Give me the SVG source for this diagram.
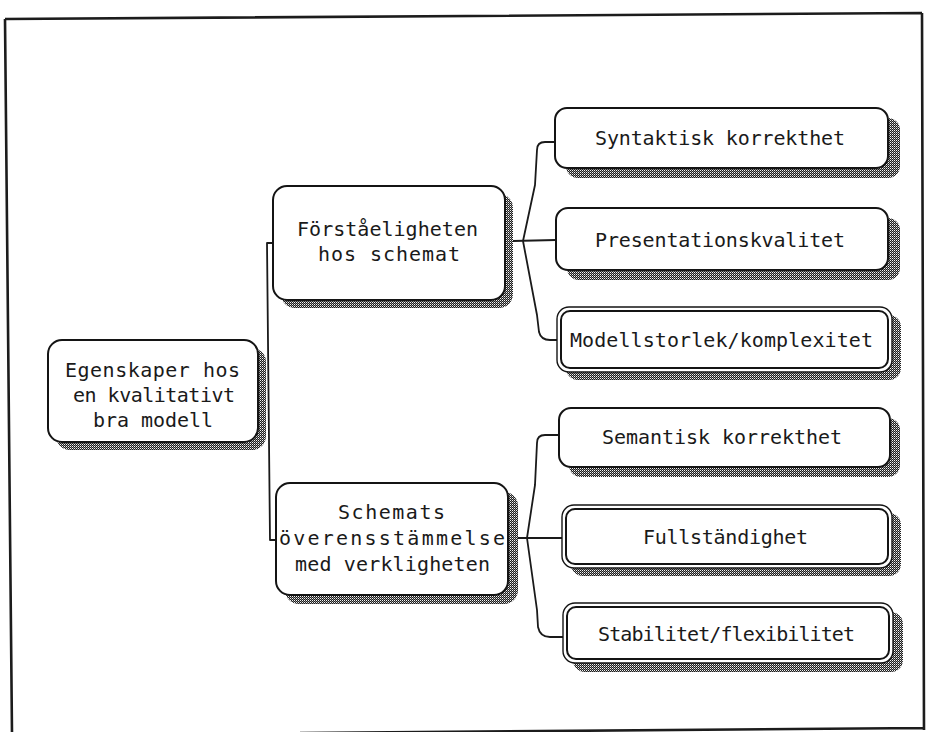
<svg xmlns="http://www.w3.org/2000/svg" width="927" height="732" viewBox="0 0 927 732">
  <defs>
    <!-- fine dither used for the drop shadows -->
    <pattern id="dither" width="2" height="2" patternUnits="userSpaceOnUse">
      <rect width="2" height="2" fill="#1e1e1e"/>
      <rect x="0" y="0" width="1" height="1" fill="#f4f4f4"/>
      <rect x="1" y="1" width="1" height="1" fill="#8a8a8a"/>
    </pattern>
    <style>
      .shadow { fill: url(#dither); stroke: none; }
      .box { fill: #ffffff; stroke: #141414; stroke-width: 2; }
      .inner { fill: none; stroke: #141414; stroke-width: 2; }
      .outer { fill: #ffffff; stroke: #141414; stroke-width: 1.4; }
      .lbl { font-family: "DejaVu Sans Mono", "Liberation Mono", monospace; font-size: 20px; fill: #1a1a1a; }
      .wire { fill: none; stroke: #1a1a1a; stroke-width: 1.8; stroke-linejoin: round; }
      .frame { fill: none; stroke: #1c1c1c; stroke-width: 2.6; }
    </style>
  </defs>

  <rect width="927" height="732" fill="#ffffff"/>

  <!-- page frame -->
  <path class="frame" d="M5,19 L922,13 M5,19 L12,734 M922,13 L924,730 M300,733 L924,728"/>

  <!-- connectors -->
  <g id="connectors">
    <path class="wire" d="M273,243 L267,243 L270,540 L276,540"/>
    <path class="wire" d="M513,241 L556,240"/>
    <path class="wire" d="M523,241 L535,185 L537,150 Q537,142 545,142 L555,142"/>
    <path class="wire" d="M523,241 L537,315 L539,332 Q541,340 550,340 L557,340"/>
    <path class="wire" d="M518,538 L562,538"/>
    <path class="wire" d="M527,538 L535,485 L537,443 Q537,435 545,435 L559,435"/>
    <path class="wire" d="M527,538 L537,610 L538,627 Q540,637 550,637 L563,637"/>
  </g>

  <!-- root -->
  <g id="node-egenskaper">
    <rect class="shadow" x="56" y="348" width="210" height="102" rx="14"/>
    <rect class="box" x="48" y="340" width="210" height="102" rx="14"/>
    <text class="lbl" x="65" y="377" textLength="175" lengthAdjust="spacing">Egenskaper hos</text>
    <text class="lbl" x="73" y="402" textLength="162" lengthAdjust="spacing">en kvalitativt</text>
    <text class="lbl" x="93" y="427" textLength="120" lengthAdjust="spacing">bra modell</text>
  </g>

  <g id="node-forstaelighet">
    <rect class="shadow" x="281" y="194" width="232" height="114" rx="14"/>
    <rect class="box" x="273" y="186" width="232" height="114" rx="14"/>
    <text class="lbl" x="297" y="236" textLength="181" lengthAdjust="spacing">Förståeligheten</text>
    <text class="lbl" x="318" y="261" textLength="142" lengthAdjust="spacing">hos schemat</text>
  </g>

  <g id="node-overensstammelse">
    <rect class="shadow" x="285" y="492" width="233" height="112" rx="14"/>
    <rect class="box" x="276" y="483" width="232" height="112" rx="14"/>
    <text class="lbl" x="338" y="519" textLength="107" lengthAdjust="spacing">Schemats</text>
    <text class="lbl" x="279" y="545" textLength="226" lengthAdjust="spacing">överensstämmelse</text>
    <text class="lbl" x="295" y="571" textLength="195" lengthAdjust="spacing">med verkligheten</text>
  </g>

  <g id="node-syntaktisk">
    <rect class="shadow" x="566" y="118" width="334" height="60" rx="12"/>
    <rect class="box" x="555" y="108" width="333" height="60" rx="12"/>
    <text class="lbl" x="595" y="145" textLength="250" lengthAdjust="spacing">Syntaktisk korrekthet</text>
  </g>

  <g id="node-presentation">
    <rect class="shadow" x="567" y="218" width="333" height="62" rx="12"/>
    <rect class="box" x="556" y="208" width="332" height="62" rx="12"/>
    <text class="lbl" x="595" y="247" textLength="250" lengthAdjust="spacing">Presentationskvalitet</text>
  </g>

  <g id="node-modellstorlek">
    <rect class="shadow" x="566" y="315" width="335" height="65" rx="12"/>
    <rect class="outer" x="557" y="307" width="335" height="65" rx="12"/>
    <rect class="inner" x="561" y="311" width="327" height="57" rx="9"/>
    <text class="lbl" x="570" y="347" textLength="303" lengthAdjust="spacing">Modellstorlek/komplexitet</text>
  </g>

  <g id="node-semantisk">
    <rect class="shadow" x="569" y="418" width="331" height="59" rx="12"/>
    <rect class="box" x="559" y="408" width="331" height="59" rx="12"/>
    <text class="lbl" x="602" y="444" textLength="240" lengthAdjust="spacing">Semantisk korrekthet</text>
  </g>

  <g id="node-fullstandighet">
    <rect class="shadow" x="571" y="513" width="330" height="63" rx="12"/>
    <rect class="outer" x="562" y="505" width="330" height="63" rx="12"/>
    <rect class="inner" x="566" y="509" width="322" height="55" rx="9"/>
    <text class="lbl" x="643" y="544" textLength="165" lengthAdjust="spacing">Fullständighet</text>
  </g>

  <g id="node-stabilitet">
    <rect class="shadow" x="573" y="612" width="330" height="60" rx="12"/>
    <rect class="outer" x="563" y="603" width="330" height="60" rx="12"/>
    <rect class="inner" x="567" y="607" width="322" height="52" rx="9"/>
    <text class="lbl" x="598" y="641" textLength="257" lengthAdjust="spacing">Stabilitet/flexibilitet</text>
  </g>
</svg>
